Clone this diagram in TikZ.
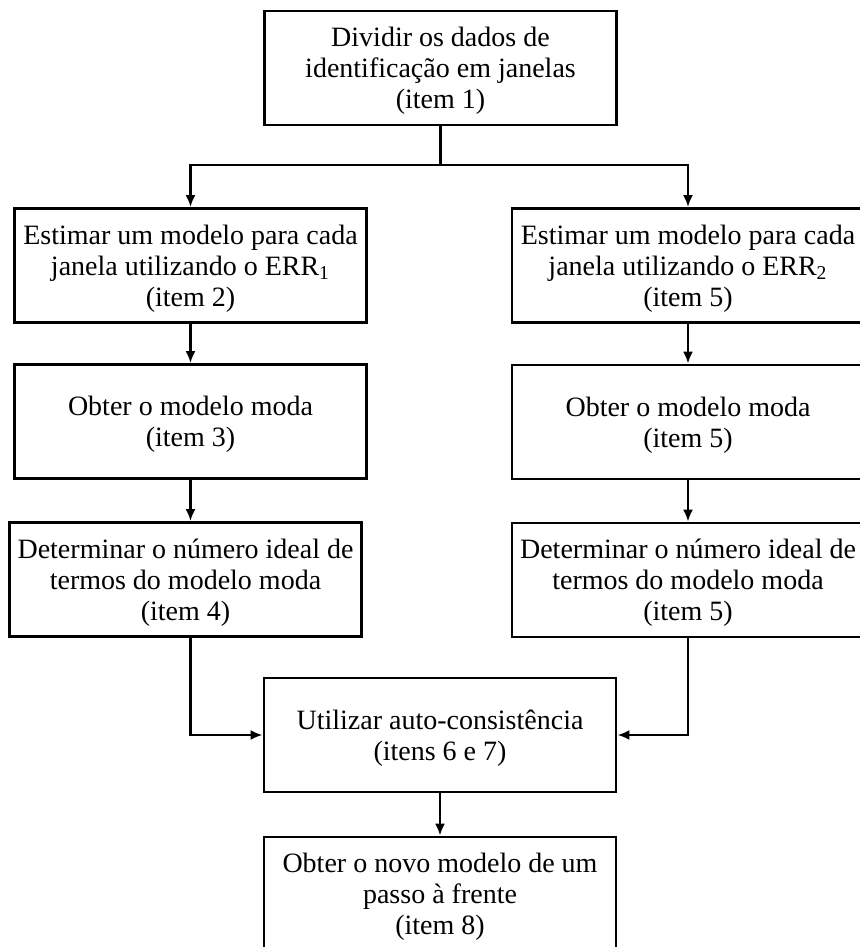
\documentclass[tikz,border=0pt]{standalone}
\usepackage{fontspec}
\setmainfont{Liberation Serif}
\usetikzlibrary{arrows.meta}

\tikzset{
    stepbox/.style = {draw, line width=1.4pt, minimum width=176pt, minimum height=57pt,
                      align=center, inner sep=2pt, font=\fontsize{14}{15.5}\selectfont,
                      text depth=0pt},
    link/.style    = {draw, line width=1.2pt},
    flow/.style    = {link, -{Latex[length=6pt, width=5pt]}},
}

\begin{document}
\begin{tikzpicture}[x=0.5pt, y=-0.5pt]
    \useasboundingbox (0,0) rectangle (860,947);

    % top
    \node[stepbox] (split) at (440.5,68) {Dividir os dados de\\identificação em janelas\\(item 1)};

    % left branch
    \node[stepbox] (estL)   at (190.5,265.5) {Estimar um modelo para cada\\janela utilizando o ERR\textsubscript{1}\\(item 2)};
    \node[stepbox] (modaL)  at (190.5,421.5) {Obter o modelo moda\\(item 3)};
    \node[stepbox] (idealL) at (185.5,579.5) {Determinar o número ideal de\\termos do modelo moda\\(item 4)};

    % right branch
    \node[stepbox] (estR)   at (688,265.5) {Estimar um modelo para cada\\janela utilizando o ERR\textsubscript{2}\\(item 5)};
    \node[stepbox] (modaR)  at (688,422)   {Obter o modelo moda\\(item 5)};
    \node[stepbox] (idealR) at (688,580)   {Determinar o número ideal de\\termos do modelo moda\\(item 5)};

    % join
    \node[stepbox] (cons) at (440,735) {Utilizar auto-consistência\\(itens 6 e 7)};
    \node[stepbox] (novo) at (440,894) {Obter o novo modelo de um\\passo à frente\\(item 8)};

    \coordinate (fork) at (440.5,165);
    \draw[link] (split.south) -- (fork);
    \draw[flow] (fork) -| (estL.north);
    \draw[flow] (fork) -| (estR.north);

    \draw[flow] (estL) -- (modaL);
    \draw[flow] (modaL) -- (idealL.north -| modaL.south);
    \draw[flow] (estR) -- (modaR);
    \draw[flow] (modaR) -- (idealR);

    \draw[flow] (idealL.south -| modaL.south) |- (cons.west);
    \draw[flow] (idealR.south) |- (cons.east);
    \draw[flow] (cons) -- (novo);
\end{tikzpicture}
\end{document}
